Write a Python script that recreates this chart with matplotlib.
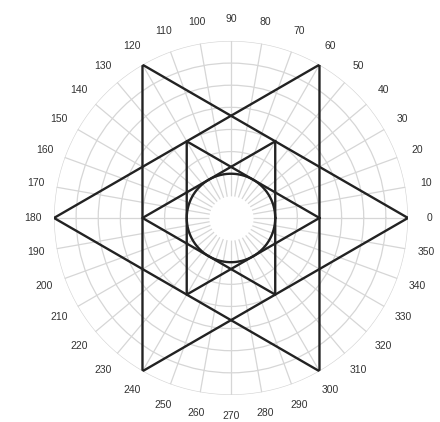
import numpy as np
import matplotlib
matplotlib.use('Agg')
import matplotlib.pyplot as plt

#---DATA---
# two large triangles (vertex angles in degrees) on the outer circle
tri_a_deg = [0, 120, 240, 0]
tri_b_deg = [60, 180, 300, 60]
outer_r = 1.0
# the same two triangles, half size
inner_r = 0.5
# circle inscribed in the small star, and the empty hole in the middle
circle_r = 0.25
hole_r = 0.125
# grid
theta_ticks = list(range(0, 360, 10))
r_ticks = [0.25, 0.375, 0.5, 0.625, 0.75, 0.875, 1.0]

#---FIGURE---
fig = plt.figure(figsize=(4.4, 4.22), dpi=100)
ax = fig.add_axes([0.1227, 0.064, 0.8045, 0.839], projection='polar')

grid_color = '#d6d6d6'
line_color = '#222222'

ax.set_thetagrids(theta_ticks, labels=[str(t) for t in theta_ticks],
                  fontsize=7.5, color='#333333', family='Liberation Sans')
ax.set_rgrids(r_ticks, labels=[])
ax.set_rlim(0, 1.0)
ax.grid(True, color=grid_color, linewidth=0.9)
ax.tick_params(axis='x', pad=5)
ax.spines['polar'].set_visible(False)

# white hole in the middle of the grid
full = np.linspace(0, 2 * np.pi, 361)
ax.fill_between(full, 0, hole_r, color='white', zorder=1.6, linewidth=0)

# stars
for r in [outer_r, inner_r]:
    for tri in [tri_a_deg, tri_b_deg]:
        ax.plot(np.deg2rad(tri), [r] * len(tri), color=line_color,
                linewidth=1.7, zorder=3)

# inner circle
ax.plot(full, np.full_like(full, circle_r), color=line_color, linewidth=1.7, zorder=3)

fig.savefig('out.png', dpi=100)
